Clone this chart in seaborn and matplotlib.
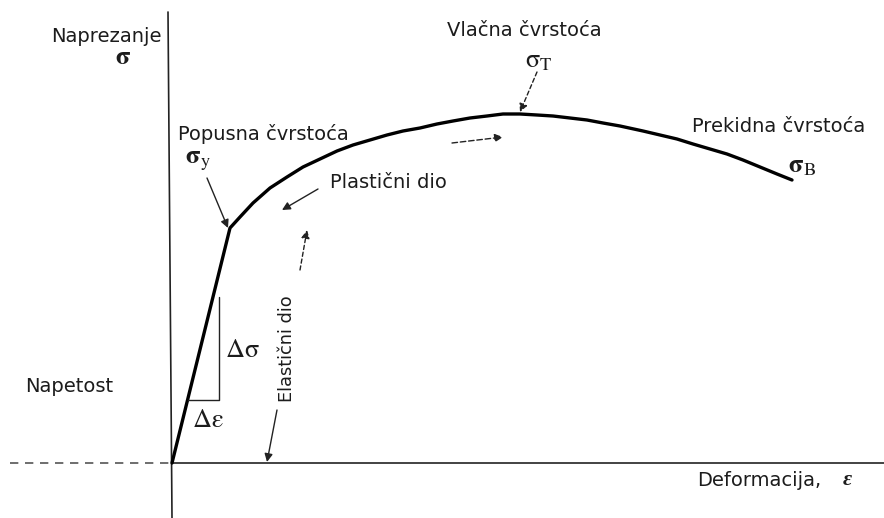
import matplotlib
matplotlib.use('Agg')
import matplotlib.pyplot as plt
import seaborn as sns
import pandas as pd

# Stress-strain curve (origin = where the axes cross)
strain = [0, 58, 68, 81, 98, 115, 131, 148, 165, 181, 198, 215, 231, 248,
          265, 281, 298, 315, 331, 348, 365, 381, 398, 415, 431, 448,
          471, 488, 505, 521, 538, 555, 571, 588, 605, 620]
stress = [0, 235, 246, 260, 275, 286, 296, 304, 312, 318, 323, 328, 332, 335,
          339, 342, 345, 347, 349, 349, 348, 347, 345, 343, 340, 337,
          332, 328, 324, 319, 314, 309, 303, 296, 289, 283]

# Slope triangle on the elastic part
tri_strain = [16, 47, 47]
tri_stress = [63, 63, 166]

curve = pd.DataFrame({'strain': strain, 'stress': stress})

sns.set_theme(style='white')
plt.rcParams['font.family'] = ['DejaVu Sans']
plt.rcParams['mathtext.fontset'] = 'stix'

txt = '#1c1c1c'
fig = plt.figure(figsize=(8.84, 5.18), dpi=100)
ax = fig.add_axes([0, 0, 1, 1])
ax.set_xlim(-172, 712)
ax.set_ylim(-55, 463)
ax.axis('off')

# axes of the diagram
ax.plot([-4, 0], [451, -55], color='#222222', lw=1.2)
ax.plot([0, 712], [0, 0], color='#222222', lw=1.2)
ax.plot([-162, 0], [0, 0], color='#555555', lw=1.2, ls=(0, (5, 4)))

sns.lineplot(data=curve, x='strain', y='stress', sort=False, ax=ax,
             color='black', lw=2.4)
ax.plot(tri_strain, tri_stress, color='#222222', lw=1.0)

fs = 14
gs = 19
ax.text(-10, 426, 'Naprezanje', ha='right', va='center', fontsize=fs, color=txt)
ax.text(-49, 406, r'$\mathbf{\sigma}$', ha='center', va='center', fontsize=gs, color=txt)
ax.text(352, 432, 'Vlačna čvrstoća', ha='center', va='center', fontsize=fs, color=txt)
ax.text(353, 403, r'$\mathrm{\sigma}_{\mathrm{T}}$', ha='left', va='center', fontsize=gs, color=txt)
ax.text(6, 329, 'Popusna čvrstoća', ha='left', va='center', fontsize=fs, color=txt)
ax.text(13, 303, r'$\mathbf{\sigma}_{\mathrm{y}}$', ha='left', va='center', fontsize=gs, color=txt)
ax.text(158, 281, 'Plastični dio', ha='left', va='center', fontsize=fs, color=txt)
ax.text(520, 337, 'Prekidna čvrstoća', ha='left', va='center', fontsize=fs, color=txt)
ax.text(616, 298, r'$\mathbf{\sigma}_{\mathrm{B}}$', ha='left', va='center', fontsize=gs, color=txt)
ax.text(-147, 76, 'Napetost', ha='left', va='center', fontsize=fs, color=txt)
ax.text(53, 113, r'$\Delta\mathrm{\sigma}$', ha='left', va='center', fontsize=gs, color=txt)
ax.text(20, 43, r'$\Delta\mathrm{\varepsilon}$', ha='left', va='center', fontsize=gs, color=txt)
ax.text(115, 114, 'Elastični dio', ha='center', va='center', fontsize=12.8,
        rotation=90, color=txt)
ax.text(525, -17, 'Deformacija,', ha='left', va='center', fontsize=fs, color=txt)
ax.text(675, -17, 'ε', ha='center', va='center', fontsize=16, color=txt,
        family='Liberation Serif', style='italic', weight='bold')

# arrows
arrows = [
    ((35, 285), (56, 235), '-'),
    ((146, 274), (110, 253), '-'),
    ((128, 193), (135, 233), (0, (3, 2))),
    ((365, 391), (348, 351), (0, (3, 2))),
    ((280, 320), (331, 326), (0, (4, 2))),
    ((105, 53), (95, 1), '-'),
]
for tail, head, ls in arrows:
    ax.annotate('', xy=head, xytext=tail,
                arrowprops=dict(arrowstyle='-|>', color='#222222', lw=1.0,
                                ls=ls, mutation_scale=12, shrinkA=0, shrinkB=0))

fig.savefig('out.png', dpi=100, facecolor='white')
